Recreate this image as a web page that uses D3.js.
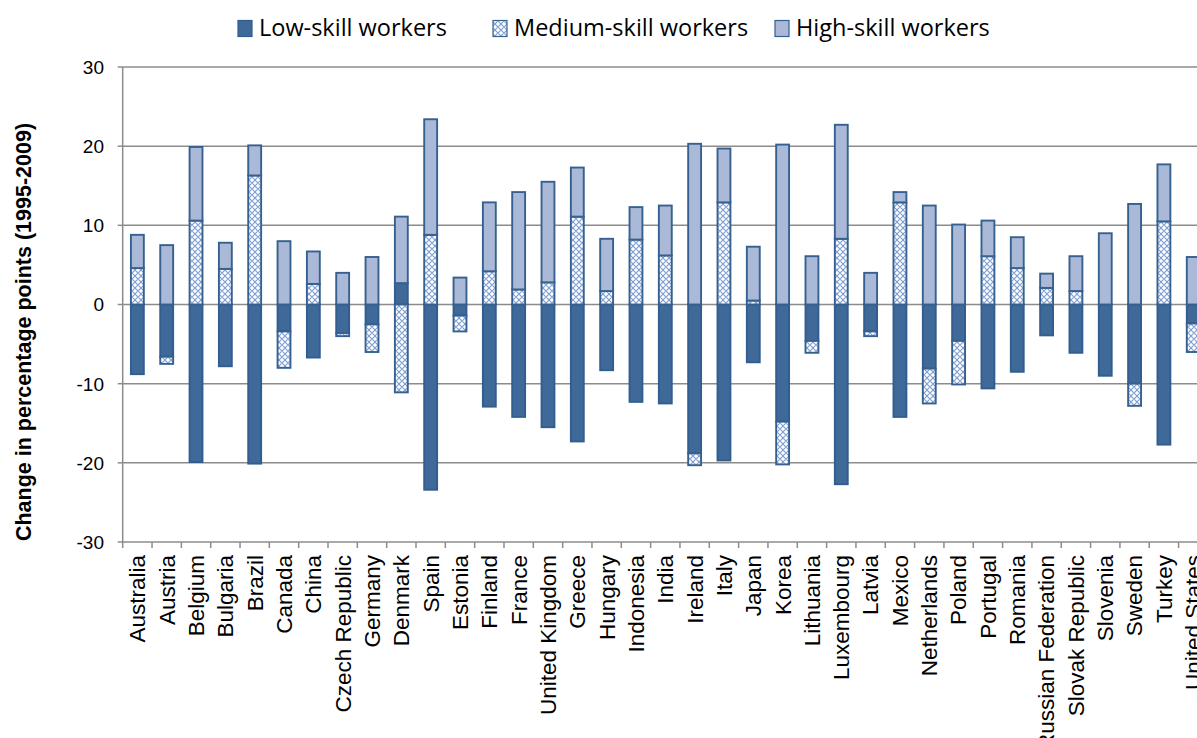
<!DOCTYPE html>
<html>
<head>
<meta charset="utf-8">
<script src="https://cdn.jsdelivr.net/npm/d3@7"></script>
<style>
    body { margin: 0; background: #fff; }
    svg { display: block; }
</style>
</head>
<body>
<div id="chart"></div>
<script>
// Countries (x categories)
const countries = ['Australia', 'Austria', 'Belgium', 'Bulgaria', 'Brazil', 'Canada', 'China',
    'Czech Republic', 'Germany', 'Denmark', 'Spain', 'Estonia', 'Finland', 'France',
    'United Kingdom', 'Greece', 'Hungary', 'Indonesia', 'India', 'Ireland', 'Italy', 'Japan',
    'Korea', 'Lithuania', 'Luxembourg', 'Latvia', 'Mexico', 'Netherlands', 'Poland', 'Portugal',
    'Romania', 'Russian Federation', 'Slovak Republic', 'Slovenia', 'Sweden', 'Turkey', 'United States'];

// Change in share of hours worked, percentage points (1995-2009)
const lowSkill = [-8.8, -6.6, -19.9, -7.8, -20.1, -3.4, -6.7, -3.6, -2.5, 2.7, -23.4, -1.4, -12.9, -14.2,
    -15.5, -17.3, -8.3, -12.3, -12.5, -18.8, -19.7, -7.3, -14.8, -4.6, -22.7, -3.4, -14.2, -8.1, -4.6, -10.6,
    -8.5, -3.9, -6.1, -9.0, -10.0, -17.7, -2.4];
const mediumSkill = [4.6, -0.9, 10.6, 4.5, 16.3, -4.6, 2.6, -0.4, -3.5, -11.1, 8.8, -2.0, 4.2, 1.9,
    2.8, 11.1, 1.7, 8.2, 6.2, -1.5, 12.9, 0.5, -5.4, -1.5, 8.3, -0.6, 12.9, -4.4, -5.5, 6.1,
    4.6, 2.1, 1.7, 0.0, -2.8, 10.5, -3.6];
const highSkill = [4.2, 7.5, 9.3, 3.3, 3.8, 8.0, 4.1, 4.0, 6.0, 8.4, 14.6, 3.4, 8.7, 12.3,
    12.7, 6.2, 6.6, 4.1, 6.3, 20.3, 6.8, 6.8, 20.2, 6.1, 14.4, 4.0, 1.3, 12.5, 10.1, 4.5,
    3.9, 1.8, 4.4, 9.0, 12.7, 7.2, 6.0];

const seriesNames = ['Low-skill workers', 'Medium-skill workers', 'High-skill workers'];
const yTicks = [-30, -20, -10, 0, 10, 20, 30];

// Layout
const W = 1197, H = 738;
const plotLeft = 122.7, step = 29.33;
const plotTop = 67, plotBottom = 542;

const svg = d3.select('#chart').append('svg')
    .attr('width', W)
    .attr('height', H);

// Medium-skill fill pattern
const defs = svg.append('defs');
const pat = defs.append('pattern')
    .attr('id', 'medPattern')
    .attr('width', 6)
    .attr('height', 6)
    .attr('patternUnits', 'userSpaceOnUse');
pat.append('rect').attr('width', 6).attr('height', 6).attr('fill', '#ffffff');
pat.append('path')
    .attr('d', 'M0,3 L3,0 L6,3 L3,6 Z')
    .attr('fill', 'none')
    .attr('stroke', '#82a1d1')
    .attr('stroke-width', 1.1);

const fills = ['#3e6999', 'url(#medPattern)', '#aab9d7'];
const strokes = ['#315d8f', '#35608f', '#35608f'];

// Scales
const x = d3.scaleBand()
    .domain(countries)
    .range([plotLeft, plotLeft + countries.length * step])
    .paddingInner(0.56)
    .paddingOuter(0.28);

const y = d3.scaleLinear()
    .domain([-30, 30])
    .range([plotBottom, plotTop]);

// Gridlines
svg.append('g')
    .selectAll('line')
    .data(yTicks.filter(t => t > -30))
    .enter().append('line')
    .attr('x1', plotLeft)
    .attr('x2', W)
    .attr('y1', d => y(d))
    .attr('y2', d => y(d))
    .attr('stroke', '#8c8c8c')
    .attr('stroke-width', 1.5);

// Stacked bars (diverging)
const rows = countries.map((c, i) => ({
    country: c,
    low: lowSkill[i],
    medium: mediumSkill[i],
    high: highSkill[i]
}));

const stack = d3.stack()
    .keys(['low', 'medium', 'high'])
    .offset(d3.stackOffsetDiverging);
const stacked = stack(rows);

const bw = x.bandwidth();
stacked.forEach((layer, k) => {
    svg.append('g')
        .selectAll('rect')
        .data(layer.filter(d => Math.abs(d[1] - d[0]) > 0.01))
        .enter().append('rect')
        .attr('x', d => x(d.data.country))
        .attr('width', bw)
        .attr('y', d => y(Math.max(d[0], d[1])))
        .attr('height', d => Math.abs(y(d[0]) - y(d[1])))
        .attr('fill', fills[k])
        .attr('stroke', strokes[k])
        .attr('stroke-width', 1.9);
});

// Y axis
const yAxis = svg.append('g');
yAxis.append('line')
    .attr('x1', plotLeft).attr('x2', plotLeft)
    .attr('y1', plotTop).attr('y2', plotBottom)
    .attr('stroke', '#8c8c8c').attr('stroke-width', 1.5);
yAxis.selectAll('.ytick')
    .data(yTicks)
    .enter().append('line')
    .attr('x1', plotLeft - 5).attr('x2', plotLeft)
    .attr('y1', d => y(d)).attr('y2', d => y(d))
    .attr('stroke', '#8c8c8c').attr('stroke-width', 1.5);
yAxis.selectAll('text')
    .data(yTicks)
    .enter().append('text')
    .attr('x', 104)
    .attr('y', d => y(d))
    .attr('dy', '0.36em')
    .attr('text-anchor', 'end')
    .style('font-family', 'Liberation Sans, Arial, sans-serif')
    .style('font-size', '19px')
    .attr('fill', '#000')
    .text(d => d);

// X axis
const xAxis = svg.append('g');
xAxis.append('line')
    .attr('x1', plotLeft).attr('x2', W)
    .attr('y1', plotBottom).attr('y2', plotBottom)
    .attr('stroke', '#8c8c8c').attr('stroke-width', 1.5);
xAxis.selectAll('.xtick')
    .data(d3.range(countries.length + 1))
    .enter().append('line')
    .attr('x1', i => plotLeft + i * step)
    .attr('x2', i => plotLeft + i * step)
    .attr('y1', plotBottom)
    .attr('y2', plotBottom + 6)
    .attr('stroke', '#8c8c8c').attr('stroke-width', 1.5);
xAxis.selectAll('text')
    .data(countries)
    .enter().append('text')
    .attr('transform', d => `translate(${x(d) + bw / 2},555) rotate(-90)`)
    .attr('dy', '0.35em')
    .attr('text-anchor', 'end')
    .style('font-family', 'Liberation Sans, Arial, sans-serif')
    .style('font-size', '22.5px')
    .attr('fill', '#000')
    .text(d => d);

// Y axis title
svg.append('text')
    .attr('transform', 'translate(31,332) rotate(-90)')
    .attr('text-anchor', 'middle')
    .style('font-family', 'Liberation Sans, Arial, sans-serif')
    .style('font-size', '21.5px')
    .style('font-weight', 'bold')
    .text('Change in percentage points (1995-2009)');

// Legend
const legendX = [238, 493, 775];
const legend = svg.append('g');
seriesNames.forEach((name, k) => {
    legend.append('rect')
        .attr('x', legendX[k])
        .attr('y', 20.5)
        .attr('width', 14)
        .attr('height', 16)
        .attr('fill', fills[k])
        .attr('stroke', strokes[k])
        .attr('stroke-width', 1.2);
    legend.append('text')
        .attr('x', legendX[k] + 21)
        .attr('y', 36)
        .style('font-family', 'Open Sans, Noto Sans, sans-serif')
        .style('font-size', '23.5px')
        .attr('fill', '#000')
        .text(name);
});
</script>
</body>
</html>
